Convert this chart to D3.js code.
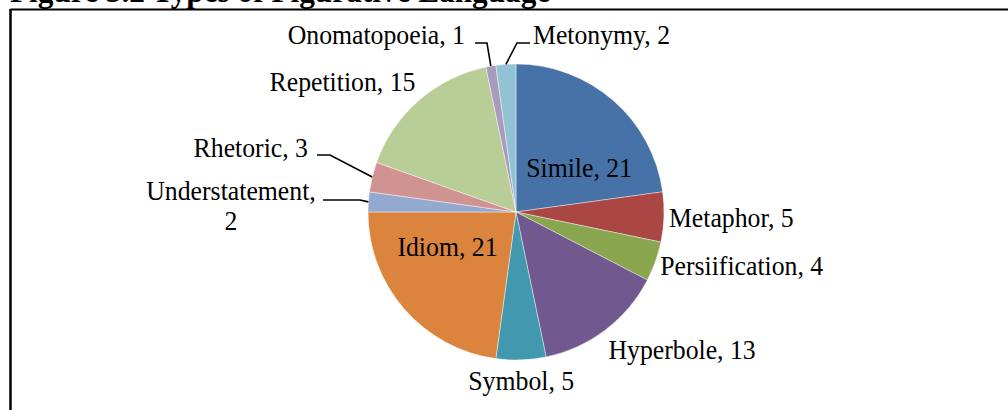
<!DOCTYPE html>
<html><head><meta charset="utf-8">
<script src="https://cdn.jsdelivr.net/npm/d3@7"></script>
<style>
html,body{margin:0;padding:0;background:#fff;}
svg{display:block;}
text{font-family:"Liberation Serif","Times New Roman",serif;fill:#000;}
</style></head>
<body>
<svg id="chart" width="1008" height="410"></svg>
<script>
const title = "Figure 3.2 Types of Figurative Language";
const categories = ["Simile","Metaphor","Persiification","Hyperbole","Symbol","Idiom","Understatement","Rhetoric","Repetition","Onomatopoeia","Metonymy"];
const values = [21,5,4,13,5,21,2,3,15,1,2];
const colors = ["#4672A8","#AA4644","#89A54E","#71588F","#4198AF","#DB843D","#93A9CF","#D19392","#B9CD96","#A99BBD","#92C3D4"];
const insideLabels = ["Simile","Idiom"];
// manually moved labels with leader lines (layout, relative to pie centre)
const leaderLayout = {
  "Metonymy":      {anchor:"start", tx: 17,  ty:-168, lines:["Metonymy, 2"], elbow:[1,-169], end:[14,-169]},
  "Onomatopoeia":  {anchor:"end",   tx:-51,  ty:-168, lines:["Onomatopoeia, 1"], elbow:[-29,-169], end:[-41,-169]},
  "Rhetoric":      {anchor:"end",   tx:-208, ty:-55,  lines:["Rhetoric, 3"], elbow:[-186,-57], end:[-199,-57]},
  "Understatement":{anchor:"middle",tx:-285, ty:-12,  lines:["Understatement,","2"], elbow:[-156,-12], end:[-193,-12]}
};

const W=1008,H=410, cx=516, cy=212, r=148, FS=28, SX=0.92;
const svg=d3.select("#chart");

// frame
svg.append("line").attr("x1",10.5).attr("x2",W).attr("y1",9.5).attr("y2",9.5).attr("stroke","#000").attr("stroke-width",2);
svg.append("line").attr("x1",10.5).attr("x2",10.5).attr("y1",9).attr("y2",H).attr("stroke","#000").attr("stroke-width",2.5);

// title
svg.append("g").attr("transform",`translate(10,2) scale(${SX},1)`)
  .append("text").attr("font-size",34).attr("font-weight","bold").text(title);

const data = categories.map((c,i)=>({cat:c,value:values[i],color:colors[i]}));
const pie = d3.pie().value(d=>d.value).sort(null);
const arcs = pie(data);
const arc = d3.arc().innerRadius(0).outerRadius(r);
const g = svg.append("g").attr("transform",`translate(${cx},${cy})`);
g.selectAll("path").data(arcs).join("path")
  .attr("d",arc).attr("fill",d=>d.data.color)
  .attr("stroke","#fff").attr("stroke-width",0.7).attr("stroke-opacity",0.6);

function addLabel(x,y,txt,anchor){
  const lg = g.append("g").attr("transform",`translate(${x},${y}) scale(${SX},1)`);
  const t = lg.append("text").attr("font-size",FS).attr("text-anchor",anchor||"start").text(txt);
  return t;
}
const asc = 0.891*FS, hgt = 1.107*FS;
const cube = v=>Math.max(-1,Math.min(1,Math.pow(v/0.6,3)));

arcs.forEach(a=>{
  const cat=a.data.cat, label=cat+", "+a.data.value;
  const mid=(a.startAngle+a.endAngle)/2;
  if(insideLabels.includes(cat)){
    const s=Math.sin(mid), c=Math.cos(mid);
    const shift = (Math.abs(mid-Math.PI/2)<Math.abs(mid-3*Math.PI/2)) ? (mid<Math.PI/2?1:-1) : (mid<3*Math.PI/2?1:-1);
    const ang = mid + shift*14*Math.PI/180;
    const rr = r*0.52;
    const px = rr*Math.sin(ang), py = -rr*Math.cos(ang);
    addLabel(px, py + 0.33*FS, label, "middle");
  } else if(leaderLayout[cat]){
    const L=leaderLayout[cat];
    const ex = r*Math.sin(mid), ey = -r*Math.cos(mid);
    g.append("polyline").attr("points",[[ex,ey],L.elbow,L.end].map(p=>p.join(",")).join(" "))
      .attr("fill","none").attr("stroke","#000").attr("stroke-width",1.6);
    L.lines.forEach((ln,i)=>addLabel(L.tx, L.ty+i*30, ln, L.anchor));
  } else {
    const d=5, s=Math.sin(mid), c=Math.cos(mid);
    const px=(r+d)*s, py=-(r+d)*c;
    const t = addLabel(0,0,label,"start");
    const w = t.node().getComputedTextLength()*SX;
    const fx = 0.5 - 0.5*cube(s), fy = 0.5 + 0.5*cube(c);
    const left = px - fx*w, top = py - fy*hgt;
    d3.select(t.node().parentNode).attr("transform",`translate(${left},${top+asc}) scale(${SX},1)`);
  }
});
</script>
</body></html>
